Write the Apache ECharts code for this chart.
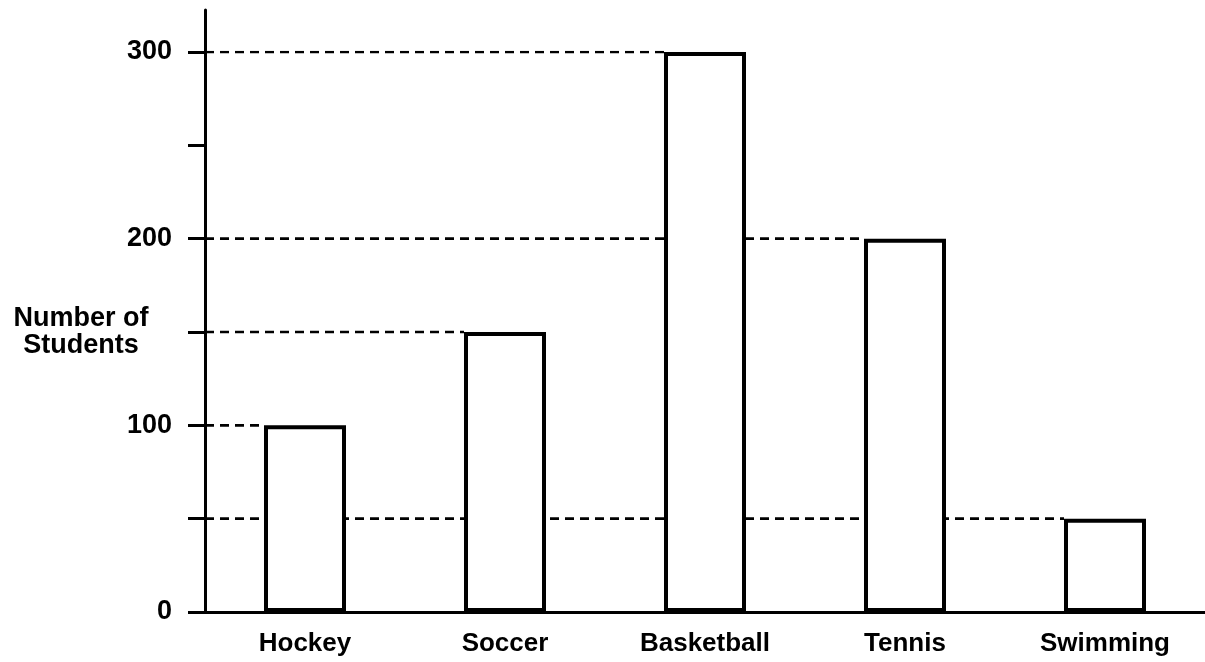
<!DOCTYPE html>
<html>
<head>
<meta charset="utf-8">
<script src="https://cdn.jsdelivr.net/npm/echarts@6/dist/echarts.min.js"></script>
<style>
html,body{margin:0;padding:0;background:#fff;}
#chart{width:1205px;height:662px;}
</style>
</head>
<body>
<div id="chart"></div>
<script>
const categories = ['Hockey', 'Soccer', 'Basketball', 'Tennis', 'Swimming'];
const values = [100, 150, 300, 200, 50];
const yLabelValues = [0, 100, 200, 300];
const yAxisTitle = 'Number of\nStudents';

const barFraction = 0.41;
const chart = echarts.init(document.getElementById('chart'), null, {renderer: 'canvas'});

const guideSeries = values.map((v, i) => ({
  type: 'line',
  xAxisIndex: 1,
  yAxisIndex: 0,
  data: [[0, v], [i + 0.5 - barFraction / 2, v]],
  symbol: 'none',
  silent: true,
  z: 1,
  lineStyle: {color: '#000', width: 2.6, type: [9, 6]}
}));

const font = 'Liberation Sans, Arial, sans-serif';
const option = {
  backgroundColor: '#fff',
  animation: false,
  grid: [
    {left: 205, top: 52, width: 1000, bottom: 50, containLabel: false, outerBoundsMode: 'none'},
    {left: 205, top: 10, width: 1000, bottom: 50, containLabel: false, outerBoundsMode: 'none'}
  ],
  xAxis: [
    {
      type: 'category',
      gridIndex: 0,
      data: categories,
      axisLine: {lineStyle: {color: '#000', width: 3}},
      axisTick: {show: false},
      axisLabel: {color: '#000', fontSize: 26, fontWeight: 'bold', fontFamily: font, margin: 19}
    },
    {type: 'value', gridIndex: 0, min: 0, max: categories.length, show: false},
    {type: 'value', gridIndex: 1, min: 0, max: 1, show: false}
  ],
  yAxis: [{
    type: 'value',
    gridIndex: 0,
    min: 0,
    max: 300,
    interval: 50,
    name: yAxisTitle,
    nameLocation: 'middle',
    nameRotate: 0,
    nameGap: 124,
    nameMoveOverlap: false,
    nameTextStyle: {color: '#000', fontSize: 27, fontWeight: 'bold', fontFamily: font, align: 'center', lineHeight: 27},
    axisLine: {show: true, lineStyle: {color: '#000', width: 3}},
    axisTick: {show: true, length: 17, lineStyle: {color: '#000', width: 3}},
    axisLabel: {
      color: '#000', fontSize: 27, fontWeight: 'bold', fontFamily: font, margin: 33,
      formatter: v => yLabelValues.indexOf(v) >= 0 ? String(v) : ''
    },
    splitLine: {show: false}
  }, {
    type: 'value',
    gridIndex: 1,
    min: 0,
    max: 1,
    axisLine: {show: true, lineStyle: {color: '#000', width: 3}},
    axisTick: {show: false},
    axisLabel: {show: false},
    splitLine: {show: false}
  }],
  series: guideSeries.concat([{
    type: 'bar',
    xAxisIndex: 0,
    yAxisIndex: 0,
    data: values,
    barWidth: (barFraction * 100) + '%',
    z: 3,
    itemStyle: {color: '#fff', borderColor: '#000', borderWidth: 4}
  }])
};
chart.setOption(option);
</script>
</body>
</html>
